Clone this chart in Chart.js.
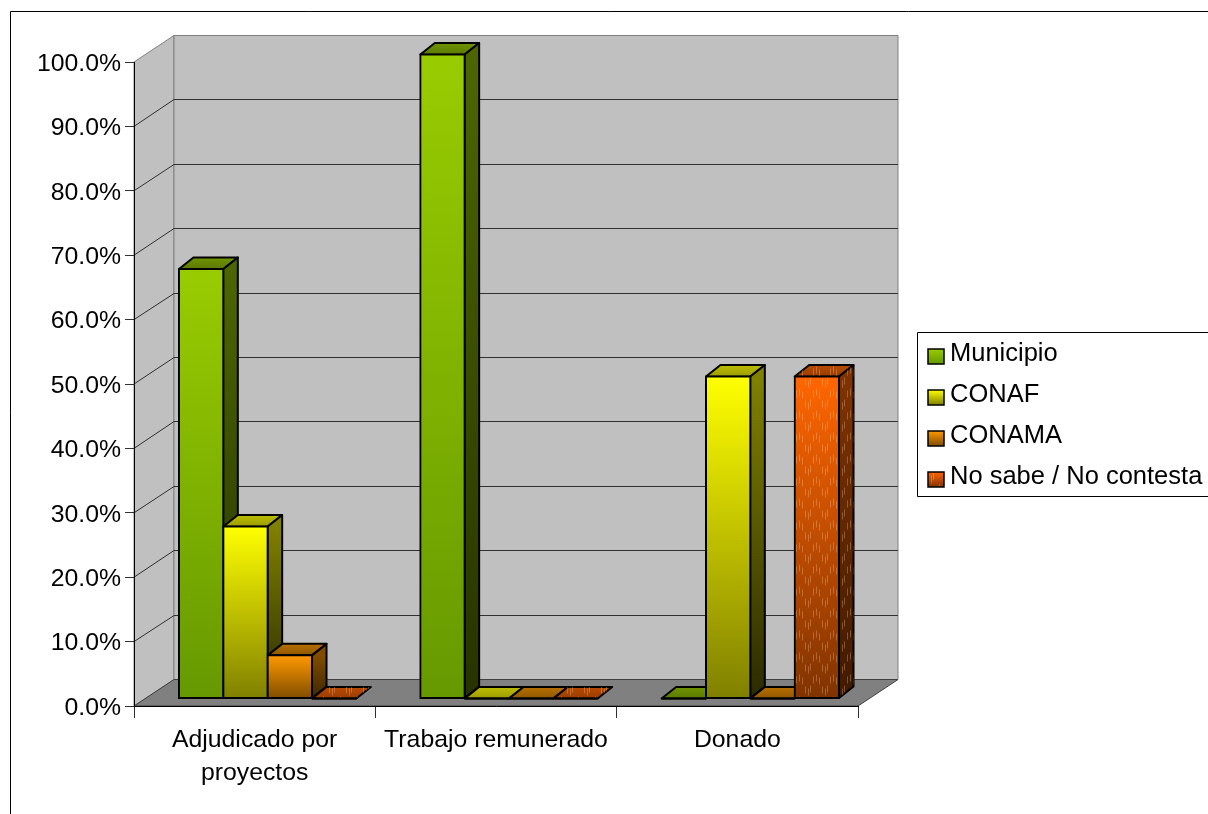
<!DOCTYPE html>
<html>
<head>
<meta charset="utf-8">
<title>Chart</title>
<style>
  html, body { margin: 0; padding: 0; background: #fff; overflow: hidden; }
  canvas { display: block; }
</style>
<script src="https://cdn.jsdelivr.net/npm/chart.js@4"></script>
</head>
<body>
<canvas id="chart" width="1208" height="814"></canvas>
<script>
const categories = [['Adjudicado por', 'proyectos'], 'Trabajo remunerado', 'Donado'];
const seriesNames = ['Municipio', 'CONAF', 'CONAMA', 'No sabe / No contesta'];
const municipio = [66.7, 100, 0];
const conaf = [26.7, 0, 50];
const conama = [6.7, 0, 0];
const noSabe = [0, 0, 50];
const seriesValues = [municipio, conaf, conama, noSabe];

// colours: front face top/bottom, side top/bottom, lid back/front
const palette = [
  { face: ['#99cc00', '#669900'], side: ['#4d6600', '#263300'], lid: ['#6f9400', '#5c7a00'] },
  { face: ['#ffff00', '#808000'], side: ['#808000', '#2b2b00'], lid: ['#bdbd00', '#9c9c00'] },
  { face: ['#ff9900', '#804d00'], side: ['#804d00', '#402600'], lid: ['#b87000', '#8f5700'] },
  { face: ['#ff6600', '#803300'], side: ['#803300', '#401a00'], lid: ['#b84a00', '#993d00'] }
];

const FONT = '"Liberation Sans", Arial, sans-serif';
const WALL = { dx: 40, dy: -26.5 };   // depth of the box
const BAR = { dx: 13, dy: -7.5 };     // where the bars stand on the floor
const BAR_DEPTH = { dx: 14.5, dy: -11.5 };

function poly(ctx, pts, fill, stroke, lineWidth) {
  ctx.beginPath();
  pts.forEach((p, i) => i ? ctx.lineTo(p[0], p[1]) : ctx.moveTo(p[0], p[1]));
  ctx.closePath();
  if (fill) { ctx.fillStyle = fill; ctx.fill(); }
  if (stroke) { ctx.strokeStyle = stroke; ctx.lineWidth = lineWidth || 1; ctx.lineJoin = 'round'; ctx.stroke(); }
}

function gradient(ctx, x0, y0, x1, y1, colors) {
  const g = ctx.createLinearGradient(x0, y0, x1, y1);
  g.addColorStop(0, colors[0]);
  g.addColorStop(1, colors[1]);
  return g;
}

// the little dashes of the last series
function hatch(ctx) {
  const tile = document.createElement('canvas');
  tile.width = 17;
  tile.height = 22;
  const t = tile.getContext('2d');
  t.fillStyle = 'rgba(255,205,165,0.3)';
  [[1, 2], [4, 0], [7, 3], [10, 12], [13, 14], [15, 11]].forEach(d => t.fillRect(d[0], d[1], 1, 7));
  return ctx.createPattern(tile, 'repeat');
}

const boxPlugin = {
  id: 'box',
  beforeDraw(chart) {
    const ctx = chart.ctx;
    const { left, right, top, bottom } = chart.chartArea;
    const dx = WALL.dx, dy = WALL.dy;
    ctx.save();
    ctx.fillStyle = '#fff';
    ctx.fillRect(0, 0, chart.width, chart.height);

    // outer frame, runs off the picture on the right and at the bottom
    ctx.strokeStyle = '#000';
    ctx.lineWidth = 1;
    ctx.beginPath();
    ctx.moveTo(1208, 11.5);
    ctx.lineTo(10.5, 11.5);
    ctx.lineTo(10.5, 814);
    ctx.stroke();

    poly(ctx, [[left, top], [left + dx, top + dy], [left + dx, bottom + dy], [left, bottom]], '#c0c0c0', '#808080');
    poly(ctx, [[left + dx, top + dy], [right + dx, top + dy], [right + dx, bottom + dy], [left + dx, bottom + dy]], '#c0c0c0', '#808080');
    poly(ctx, [[left, bottom], [left + dx, bottom + dy], [right + dx, bottom + dy], [right, bottom]], '#808080', '#404040');

    const yScale = chart.scales.y;
    ctx.strokeStyle = '#303030';
    ctx.lineWidth = 1;
    yScale.ticks.forEach(t => {
      if (t.value === 0 || t.value === 100) return;
      const py = yScale.getPixelForValue(t.value);
      const back = Math.floor(py + dy) + 0.5;
      ctx.beginPath();
      ctx.moveTo(left, py);
      ctx.lineTo(left + dx, back);
      ctx.lineTo(right + dx, back);
      ctx.stroke();
    });
    ctx.restore();
  },
  beforeDatasetsDraw(chart) {
    const ctx = chart.ctx;
    const pattern = hatch(ctx);
    const dx = BAR_DEPTH.dx, dy = BAR_DEPTH.dy;
    ctx.save();
    ctx.translate(BAR.dx, BAR.dy);
    for (let c = 0; c < categories.length; c++) {
      seriesValues.forEach((values, s) => {
        const bar = chart.getDatasetMeta(s).data[c];
        const l = bar.x - bar.width / 2, r = bar.x + bar.width / 2;
        const t = bar.y, b = bar.base;
        const col = palette[s];
        const lid = [[l, t], [l + dx, t + dy], [r + dx, t + dy], [r, t]];
        const side = [[r, t], [r + dx, t + dy], [r + dx, b + dy], [r, b]];
        poly(ctx, lid, gradient(ctx, 0, t + dy, 0, t, col.lid), '#000', 2);
        if (s === 3) poly(ctx, lid, pattern);
        if (b > t) {
          poly(ctx, side, gradient(ctx, 0, t, 0, b, col.side), '#000', 2);
          if (s === 3) poly(ctx, side, pattern);
          bar.draw(ctx);
          if (s === 3) poly(ctx, [[l + 1, t + 1], [r - 1, t + 1], [r - 1, b - 1], [l + 1, b - 1]], pattern);
        } else {
          ctx.strokeStyle = '#000';
          ctx.lineWidth = 2;
          ctx.beginPath();
          ctx.moveTo(l, b);
          ctx.lineTo(r, b);
          ctx.stroke();
        }
      });
    }
    ctx.restore();
    return false;
  },
  afterDraw(chart) {
    const ctx = chart.ctx;
    const pattern = hatch(ctx);
    ctx.save();
    // legend
    ctx.strokeStyle = '#000';
    ctx.lineWidth = 1;
    ctx.beginPath();
    ctx.moveTo(1208, 332.5);
    ctx.lineTo(917.5, 332.5);
    ctx.lineTo(917.5, 496.5);
    ctx.lineTo(1208, 496.5);
    ctx.stroke();
    ctx.font = '25.5px ' + FONT;
    ctx.textBaseline = 'middle';
    seriesNames.forEach((name, i) => {
      const y = 354 + i * 41;
      const top = y - 5;
      ctx.fillStyle = gradient(ctx, 0, top, 0, top + 15, palette[i].face);
      ctx.fillRect(928, top, 16, 15);
      if (i === 3) { ctx.fillStyle = pattern; ctx.fillRect(928, top, 16, 15); }
      ctx.strokeStyle = '#000';
      ctx.lineWidth = 1.5;
      ctx.strokeRect(928, top, 16, 15);
      ctx.fillStyle = '#000';
      ctx.fillText(name, 950, y);
    });
    ctx.restore();
  }
};

new Chart(document.getElementById('chart').getContext('2d'), {
  type: 'bar',
  data: {
    labels: categories,
    datasets: seriesNames.map((name, s) => ({
      label: name,
      data: seriesValues[s],
      borderColor: '#000',
      borderWidth: 2,
      borderSkipped: false,
      inflateAmount: 1,
      categoryPercentage: 0.735,
      barPercentage: 1,
      backgroundColor(c) {
        const y = c.chart.scales.y;
        const top = y ? y.getPixelForValue(c.raw) : NaN;
        const base = y ? y.getPixelForValue(0) : NaN;
        if (!isFinite(top) || !isFinite(base)) return palette[s].face[0];
        return gradient(c.chart.ctx, 0, top, 0, base, palette[s].face);
      }
    }))
  },
  options: {
    responsive: false,
    devicePixelRatio: 1,
    animation: false,
    layout: { padding: { left: 0, top: 62, right: 350, bottom: 0 } },
    plugins: { legend: { display: false }, tooltip: { enabled: false } },
    scales: {
      x: {
        afterFit(scale) { scale.height = 108; },
        border: { color: '#000', width: 1 },
        grid: { drawOnChartArea: false, color: '#303030', tickLength: 12 },
        ticks: {
          color: '#000',
          maxRotation: 0,
          autoSkip: false,
          padding: 6,
          font: { family: FONT, size: 24.8, lineHeight: 1.33 }
        }
      },
      y: {
        min: 0,
        max: 100,
        afterFit(scale) { scale.width = 134; },
        // tick labels sit 2px lower than the gridline centre in the original
        afterUpdate(scale) {
          if (scale.drawLabels !== Object.getPrototypeOf(scale).drawLabels) return;
          const drawLabels = scale.drawLabels;
          scale.drawLabels = function (area) {
            scale.ctx.save();
            scale.ctx.translate(0, 2);
            drawLabels.call(scale, area);
            scale.ctx.restore();
          };
        },
        border: { color: '#000', width: 1 },
        grid: { drawOnChartArea: false, color: '#303030', tickLength: 9 },
        ticks: {
          stepSize: 10,
          color: '#000',
          padding: 4,
          font: { family: FONT, size: 24.8 },
          callback: v => v.toFixed(1) + '%'
        }
      }
    }
  },
  plugins: [boxPlugin]
});
</script>
</body>
</html>
